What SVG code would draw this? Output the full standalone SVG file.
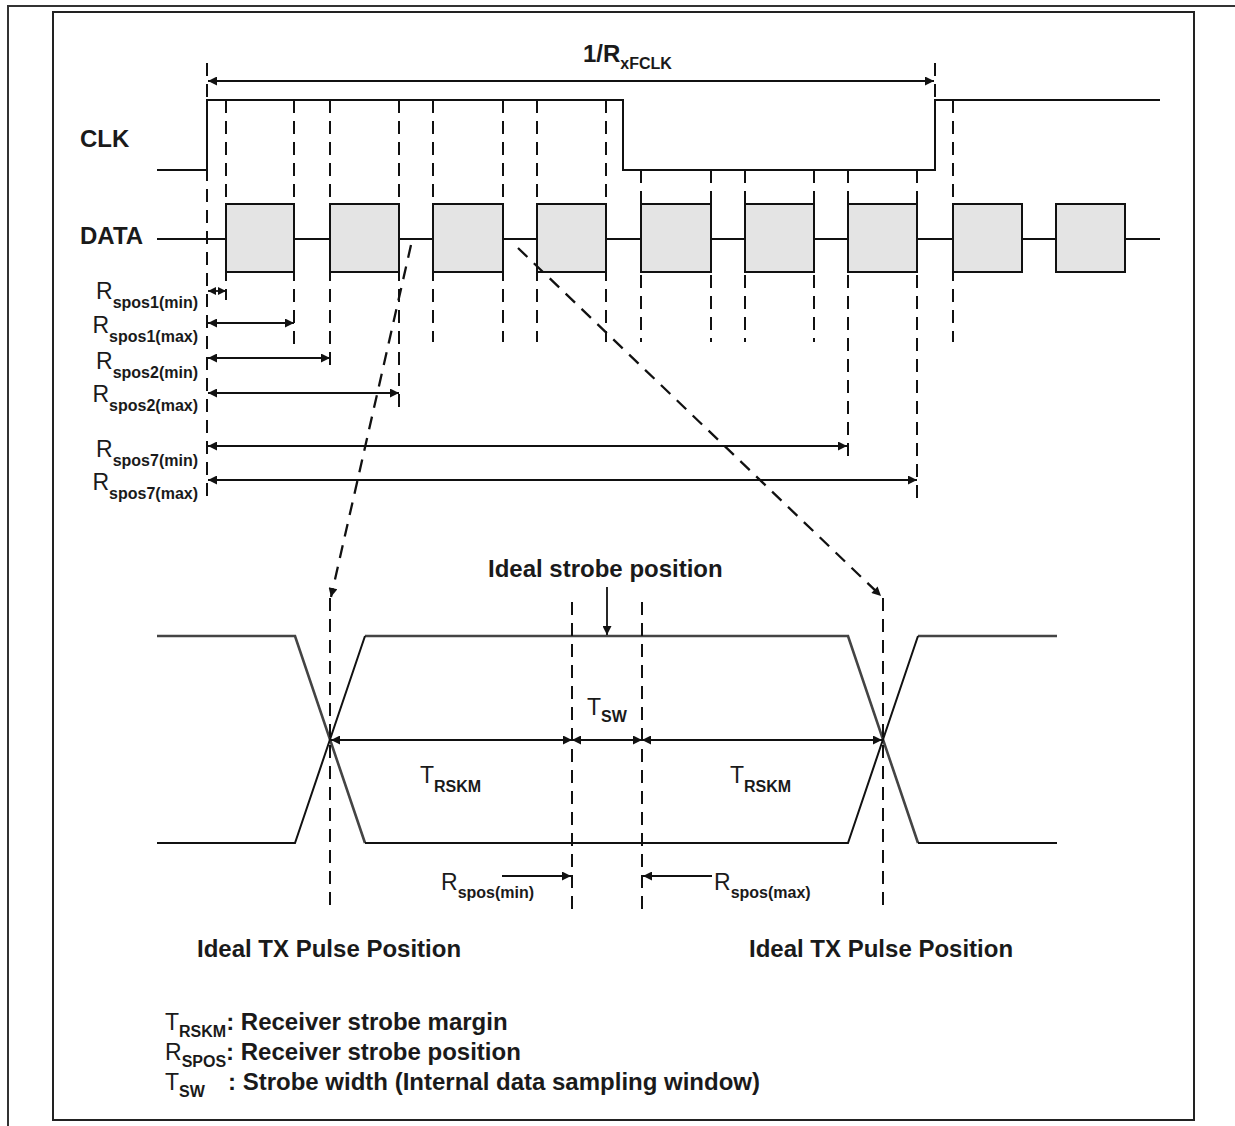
<svg xmlns="http://www.w3.org/2000/svg" width="1235" height="1126" viewBox="0 0 1235 1126">
<style>
.t{font-family:"Liberation Sans",Arial,sans-serif;fill:#1a1a1a}
.h{font-size:24px;font-weight:bold}
.big{font-size:23px;font-weight:normal}
.sub{font-size:16px;font-weight:bold}
.ln{stroke:#111;stroke-width:2;fill:none}
.ds{stroke:#111;stroke-width:2;fill:none;stroke-dasharray:13 8}
.ar{stroke:#111;stroke-width:1.8;fill:none;marker-start:url(#ah);marker-end:url(#ah)}
.ae{stroke:#111;stroke-width:1.8;fill:none;marker-end:url(#ah)}
.dg{stroke:#111;stroke-width:2.3;fill:none;stroke-dasharray:13 9;marker-end:url(#ah)}
.box{fill:#e4e4e4;stroke:#111;stroke-width:2}
</style>
<defs>
<marker id="ah" viewBox="0 0 10 10" refX="10" refY="5" markerWidth="11" markerHeight="9" markerUnits="userSpaceOnUse" orient="auto-start-reverse">
<path d="M0,0 L10,5 L0,10 z" fill="#111"/>
</marker>
<marker id="ahs" viewBox="0 0 10 10" refX="10" refY="5" markerWidth="8" markerHeight="8" markerUnits="userSpaceOnUse" orient="auto-start-reverse">
<path d="M0,0 L10,5 L0,10 z" fill="#111"/>
</marker>
</defs>
<rect width="1235" height="1126" fill="#fff"/>
<g id="frame">
<path d="M8,1126 V6 H1235" stroke="#333" stroke-width="2" fill="none"/>
<rect x="53" y="12" width="1141" height="1108" stroke="#222" stroke-width="2" fill="none"/>
</g>
<g id="clk">
<text class="t h" x="80" y="147">CLK</text>
<path class="ln" d="M157,170 H207 V100 H623 V170 H935 V100 H1160"/>
</g>
<g id="data">
<text class="t h" x="80" y="244">DATA</text>
<path class="ln" d="M157,239 H1160"/>
<rect class="box" x="226" y="204" width="68" height="68"/>
<rect class="box" x="330" y="204" width="69" height="68"/>
<rect class="box" x="433" y="204" width="70" height="68"/>
<rect class="box" x="537" y="204" width="69" height="68"/>
<rect class="box" x="641" y="204" width="70" height="68"/>
<rect class="box" x="745" y="204" width="69" height="68"/>
<rect class="box" x="848" y="204" width="69" height="68"/>
<rect class="box" x="953" y="204" width="69" height="68"/>
<rect class="box" x="1056" y="204" width="69" height="68"/>
</g>
<g id="period">
<text class="t" x="583" y="62"><tspan class="h">1/R</tspan><tspan class="sub" dy="7">xFCLK</tspan></text>
</g>
<g id="guides">
<path class="ds" d="M207,63 V500 M935,63 V100 M226,100 V300 M294,100 V346 M330,100 V370 M399,100 V412 M433,100 V342 M503,100 V342 M537,100 V342 M606,100 V342 M641,170 V342 M711,170 V342 M745,170 V342 M814,170 V342 M848,170 V463 M917,170 V498 M953,100 V342"/>
</g>
<g id="rspos-labels">
<text class="t" x="198" y="299" text-anchor="end"><tspan class="big">R</tspan><tspan class="sub" dy="9">spos1(min)</tspan></text>
<text class="t" x="198" y="333" text-anchor="end"><tspan class="big">R</tspan><tspan class="sub" dy="9">spos1(max)</tspan></text>
<text class="t" x="198" y="369" text-anchor="end"><tspan class="big">R</tspan><tspan class="sub" dy="9">spos2(min)</tspan></text>
<text class="t" x="198" y="402" text-anchor="end"><tspan class="big">R</tspan><tspan class="sub" dy="9">spos2(max)</tspan></text>
<text class="t" x="198" y="457" text-anchor="end"><tspan class="big">R</tspan><tspan class="sub" dy="9">spos7(min)</tspan></text>
<text class="t" x="198" y="490" text-anchor="end"><tspan class="big">R</tspan><tspan class="sub" dy="9">spos7(max)</tspan></text>
</g>
<g id="eye">
<path d="M157,636 H295 L365,843 M365,636 H848 L918,843 M918,636 H1057" stroke="#444" stroke-width="2.6" fill="none"/>
<path class="ln" d="M157,843 H295 L365,636 M365,843 H848 L918,636 M918,843 H1057"/>
<path class="ds" d="M330,598 V912 M883,598 V912 M572,602 V912 M642,602 V912"/>
<text class="t h" x="488" y="577">Ideal strobe position</text>
<text class="t" x="587" y="715"><tspan class="big">T</tspan><tspan class="sub" dy="7">SW</tspan></text>
<text class="t" x="420" y="783"><tspan class="big">T</tspan><tspan class="sub" dy="9">RSKM</tspan></text>
<text class="t" x="730" y="783"><tspan class="big">T</tspan><tspan class="sub" dy="9">RSKM</tspan></text>
<text class="t" x="441" y="890"><tspan class="big">R</tspan><tspan class="sub" dy="8">spos(min)</tspan></text>
<text class="t" x="714" y="890"><tspan class="big">R</tspan><tspan class="sub" dy="8">spos(max)</tspan></text>
<text class="t h" x="197" y="957">Ideal TX Pulse Position</text>
<text class="t h" x="749" y="957">Ideal TX Pulse Position</text>
</g>
<g id="legend">
<text class="t" x="165" y="1030"><tspan class="big">T</tspan><tspan class="sub" dy="7">RSKM</tspan><tspan class="h" dy="-7">: Receiver strobe margin</tspan></text>
<text class="t" x="165" y="1060"><tspan class="big">R</tspan><tspan class="sub" dy="7">SPOS</tspan><tspan class="h" dy="-7">: Receiver strobe position</tspan></text>
<text class="t" x="165" y="1090"><tspan class="big">T</tspan><tspan class="sub" dy="7">SW</tspan></text>
<text class="t h" x="228" y="1090">: Strobe width (Internal data sampling window)</text>
</g>
<g id="connectors">
<path class="ar" d="M208,81 H934"/>
<path d="M208,291 H226" stroke="#111" stroke-width="1.8" marker-start="url(#ahs)" marker-end="url(#ahs)"/>
<path class="ar" d="M208,323 H294"/>
<path class="ar" d="M208,358 H330"/>
<path class="ar" d="M208,393 H399"/>
<path class="ar" d="M208,446 H847"/>
<path class="ar" d="M208,480 H917"/>
<path class="dg" d="M411,245 L331,597"/>
<path class="dg" d="M518,248 L881,596"/>
<path class="ae" d="M607,587 V635"/>
<path class="ar" d="M331,740 H572"/>
<path class="ar" d="M572,740 H642"/>
<path class="ar" d="M642,740 H882"/>
<path class="ae" d="M502,876 H571"/>
<path class="ae" d="M712,876 H643"/>
</g>
</svg>
